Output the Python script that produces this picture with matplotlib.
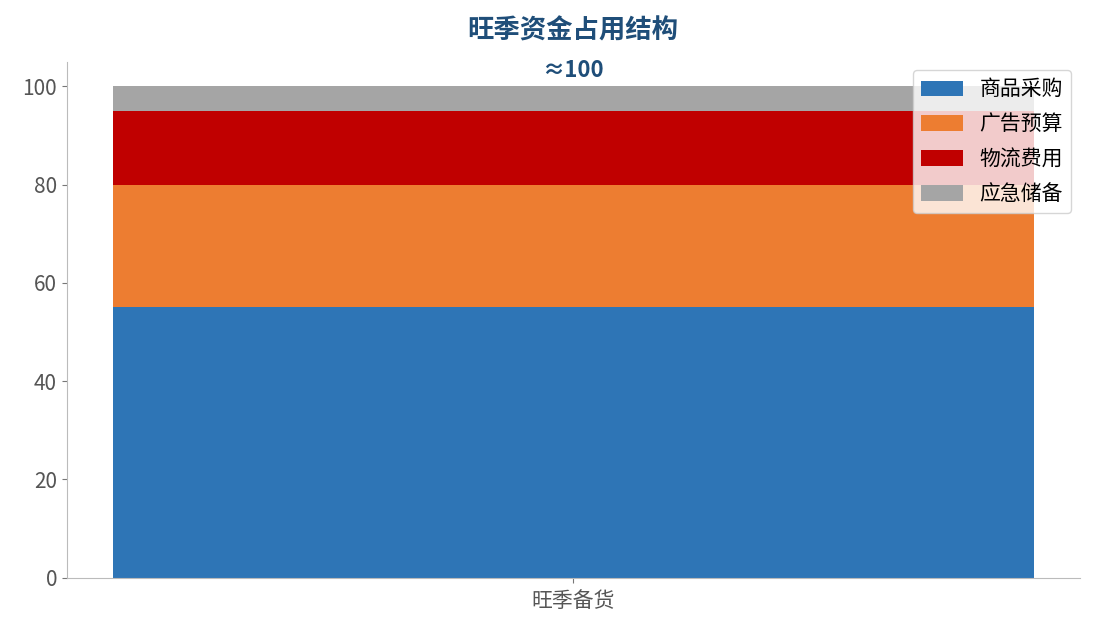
import matplotlib
matplotlib.use("Agg")
import matplotlib.pyplot as plt

plt.rcParams['font.family'] = ['Noto Sans CJK SC', 'DejaVu Sans']

category = ["旺季备货"]
series_names = ["商品采购", "广告预算", "物流费用", "应急储备"]
series_values = [55, 25, 15, 5]
colors = ["#2E75B6", "#ED7D31", "#C00000", "#A5A5A5"]

fig, ax = plt.subplots(figsize=(10.95, 6.3), dpi=100)

bottom = 0
for name, val, col in zip(series_names, series_values, colors):
    ax.bar(category, [val], bottom=bottom, color=col, label=name, width=0.8)
    bottom += val

ax.text(0, bottom + 0.9, "≈100", ha="center", va="bottom",
        fontsize=16, fontweight="bold", color="#1F4E79")

ax.set_ylim(0, 105)
ax.set_title("旺季资金占用结构", fontsize=19, fontweight="bold",
             color="#1F4E79", pad=17)

for s in ["top", "right"]:
    ax.spines[s].set_visible(False)
for s in ["left", "bottom"]:
    ax.spines[s].set_color("#BBBBBB")
ax.tick_params(colors="#555555", labelsize=15)
ax.tick_params(axis="both", color="#777777")
ax.tick_params(axis="x", pad=5)

ax.legend(loc="upper right", fontsize=15, framealpha=0.8,
          labelspacing=0.62, handlelength=2.0, handleheight=0.75,
          handletextpad=0.8, borderaxespad=0.4)

fig.subplots_adjust(left=0.061, right=0.986, top=0.902, bottom=0.083)
fig.savefig("out.png", dpi=100)
